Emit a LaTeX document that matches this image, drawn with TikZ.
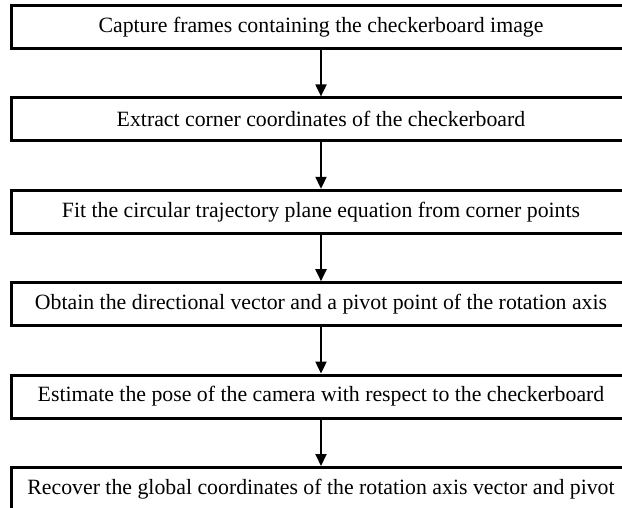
\documentclass[tikz,border=0pt]{standalone}
\usepackage{fontspec}
\setmainfont{Liberation Serif}
\usetikzlibrary{positioning,arrows.meta}
\tikzset{
	stepbox/.style={draw=black, line width=1.5pt, minimum width=310pt, minimum height=21.5pt, inner sep=0pt, font=\fontsize{10.9}{13}\selectfont},
	flow/.style={line width=1pt, -{Triangle[length=6pt, width=5.5pt]}}
}
\begin{document}
\begin{tikzpicture}[x=0.5pt, y=-0.5pt]
		\useasboundingbox (0, 0) rectangle (622, 508);
		\clip (0, 0) rectangle (622, 508);
		\node[stepbox] (capture) at (321, 27) {Capture frames containing the checkerboard image};
		\node[stepbox, below=23.2pt of capture] (extract) {Extract corner coordinates of the checkerboard};
		\node[stepbox, below=23.2pt of extract] (fit) {Fit the circular trajectory plane equation from corner points};
		\node[stepbox, below=23.2pt of fit] (axis) {Obtain the directional vector and a pivot point of the rotation axis};
		\node[stepbox, below=23.2pt of axis] (pose) {Estimate the pose of the camera with respect to the checkerboard};
		\node[stepbox, below=23.2pt of pose] (recover) {Recover the global coordinates of the rotation axis vector and pivot};
		\foreach \a/\b in {capture/extract, extract/fit, fit/axis, axis/pose, pose/recover} {
			\draw[flow] (\a) -- (\b);
		}
	\end{tikzpicture}
\end{document}
